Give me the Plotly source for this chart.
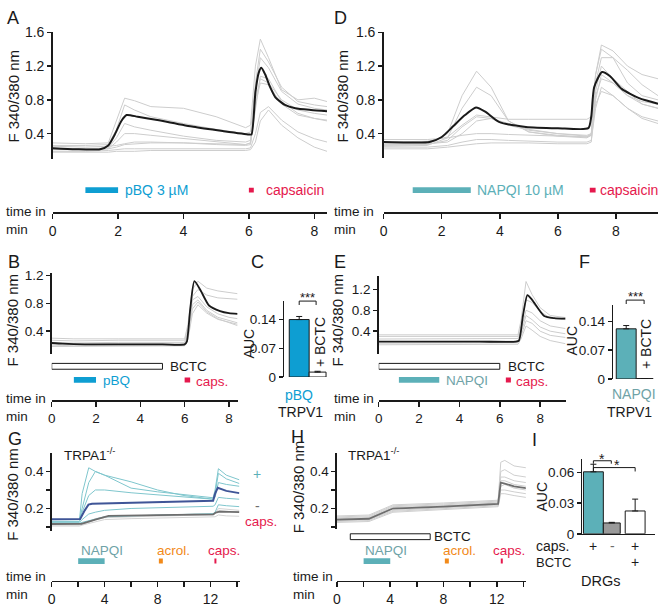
import plotly.graph_objects as go

W, H = 660, 608
def X(px): return px / W
def Y(py): return 1 - py / H

FONT = "Liberation Sans, Arial, sans-serif"
INK = "#1a1a1a"
BLUE = "#0e9ed2"
TEAL = "#5cb0b8"
TEAL_TXT = "#6fa3a7"
RED = "#e5194d"
ORANGE = "#f28a1a"
GRAYTR = "#cdcdcd"
NAVY = "#3f5597"
TEAL_LIGHT = "#7fc6cd"
DARKGRAY = "#6e6e6e"

# ---------------- data: panel A (pBQ) ----------------
tA = [0, 1.0, 1.7, 1.95, 2.2, 2.5, 3.0, 4.0, 5.0, 5.9, 6.05, 6.2, 6.35, 6.6, 7.0, 7.5, 8.0, 8.39]
A_cells = [
    [0.29, 0.28, 0.29, 0.55, 0.82, 0.79, 0.72, 0.70, 0.60, 0.47, 0.50, 1.20, 1.52, 1.30, 0.92, 0.80, 0.82, 0.78],
    [0.26, 0.26, 0.27, 0.45, 0.74, 0.68, 0.60, 0.52, 0.45, 0.40, 0.42, 1.00, 1.40, 1.25, 0.95, 0.78, 0.74, 0.72],
    [0.23, 0.22, 0.23, 0.35, 0.52, 0.48, 0.44, 0.37, 0.32, 0.30, 0.32, 0.80, 1.05, 1.00, 0.80, 0.68, 0.64, 0.62],
    [0.21, 0.21, 0.22, 0.24, 0.27, 0.28, 0.29, 0.29, 0.28, 0.27, 0.29, 0.70, 1.08, 1.05, 0.78, 0.64, 0.58, 0.55],
    [0.19, 0.19, 0.20, 0.21, 0.22, 0.22, 0.22, 0.22, 0.22, 0.22, 0.23, 0.40, 0.65, 0.72, 0.56, 0.42, 0.34, 0.30],
    [0.18, 0.18, 0.18, 0.19, 0.19, 0.19, 0.20, 0.20, 0.20, 0.20, 0.21, 0.30, 0.55, 0.68, 0.50, 0.35, 0.24, 0.19],
    [0.25, 0.24, 0.25, 0.26, 0.28, 0.30, 0.30, 0.29, 0.27, 0.26, 0.27, 0.90, 1.30, 1.18, 0.90, 0.75, 0.70, 0.68],
    [0.22, 0.21, 0.22, 0.30, 0.40, 0.40, 0.38, 0.34, 0.30, 0.27, 0.29, 0.75, 1.00, 0.98, 0.75, 0.62, 0.58, 0.56],
]
tA_mean = [0, 0.7, 1.45, 1.7, 1.9, 2.1, 2.26, 2.6, 3.2, 4.3, 5.2, 6.0, 6.08, 6.2, 6.3, 6.38, 6.5, 6.65, 6.81, 7.1, 7.42, 7.9, 8.39]
vA_mean = [0.227, 0.215, 0.215, 0.26, 0.39, 0.55, 0.62, 0.60, 0.56, 0.48, 0.43, 0.39, 0.39, 0.89, 1.12, 1.18, 1.10, 0.95, 0.83, 0.74, 0.70, 0.68, 0.665]
A_pbq = [1.0, 2.0]
A_caps = [6.0, 6.15]

# ---------------- data: panel D (NAPQI) ----------------
tD = [0, 1.5, 2.2, 2.7, 3.2, 3.7, 4.3, 5.0, 6.0, 7.0, 7.15, 7.3, 7.5, 7.9, 8.4, 8.9, 9.45]
D_cells = [
    [0.27, 0.27, 0.40, 0.85, 1.14, 0.95, 0.55, 0.42, 0.38, 0.36, 0.40, 1.10, 1.45, 1.38, 1.20, 1.10, 1.05],
    [0.25, 0.26, 0.35, 0.70, 0.95, 0.85, 0.55, 0.42, 0.37, 0.35, 0.38, 1.00, 1.30, 1.30, 1.15, 0.98, 0.85],
    [0.30, 0.31, 0.36, 0.50, 0.62, 0.60, 0.57, 0.57, 0.57, 0.57, 0.60, 1.10, 1.40, 1.30, 1.00, 0.85, 0.80],
    [0.33, 0.33, 0.35, 0.38, 0.40, 0.40, 0.39, 0.38, 0.37, 0.36, 0.38, 0.90, 1.20, 1.05, 0.90, 0.75, 0.70],
    [0.24, 0.24, 0.26, 0.30, 0.33, 0.33, 0.32, 0.31, 0.30, 0.30, 0.32, 0.70, 0.95, 0.85, 0.70, 0.58, 0.52],
    [0.26, 0.27, 0.32, 0.48, 0.60, 0.58, 0.50, 0.44, 0.40, 0.38, 0.40, 0.75, 0.90, 0.85, 0.70, 0.60, 0.55],
    [0.28, 0.28, 0.30, 0.40, 0.55, 0.58, 0.52, 0.45, 0.40, 0.37, 0.38, 0.85, 1.05, 1.00, 0.85, 0.75, 0.70],
    [0.22, 0.22, 0.24, 0.26, 0.28, 0.29, 0.29, 0.29, 0.28, 0.28, 0.30, 0.80, 1.10, 1.00, 0.85, 0.78, 0.75],
]
tD_mean = [0, 0.8, 1.58, 2.0, 2.4, 2.8, 3.18, 3.5, 3.97, 4.9, 6.0, 7.05, 7.15, 7.25, 7.52, 7.8, 8.2, 8.8, 9.45]
vD_mean = [0.30, 0.295, 0.30, 0.36, 0.49, 0.62, 0.71, 0.66, 0.54, 0.48, 0.465, 0.465, 0.60, 0.95, 1.13, 1.08, 0.93, 0.82, 0.755]
D_napqi = [1.0, 3.0]
D_caps = [7.1, 7.3]

# ---------------- data: panel B (pBQ + BCTC) ----------------
tB = [0, 1, 3, 5, 6.0, 6.15, 6.35, 6.6, 7.0, 7.5, 8.0, 8.39]
B_cells = [
    [0.30, 0.29, 0.29, 0.29, 0.29, 0.50, 1.00, 1.12, 1.02, 0.98, 0.96, 0.94],
    [0.27, 0.26, 0.27, 0.27, 0.27, 0.45, 0.90, 1.00, 0.92, 0.88, 0.87, 0.86],
    [0.24, 0.23, 0.24, 0.24, 0.24, 0.40, 0.85, 0.90, 0.75, 0.65, 0.60, 0.58],
    [0.22, 0.21, 0.22, 0.22, 0.22, 0.35, 0.78, 0.85, 0.70, 0.60, 0.55, 0.52],
    [0.20, 0.19, 0.20, 0.20, 0.20, 0.32, 0.72, 0.82, 0.68, 0.58, 0.52, 0.48],
    [0.18, 0.18, 0.18, 0.19, 0.19, 0.28, 0.65, 0.78, 0.66, 0.57, 0.53, 0.50],
]
tB_mean = [0, 0.5, 1.5, 3, 5, 6.0, 6.1, 6.25, 6.44, 6.7, 7.1, 7.6, 8.0, 8.39]
vB_mean = [0.23, 0.22, 0.21, 0.21, 0.21, 0.21, 0.25, 0.71, 1.12, 1.00, 0.77, 0.69, 0.66, 0.65]
B_bctc = [0, 5.0]
B_pbq = [1.0, 2.0]
B_caps = [6.0, 6.25]

# ---------------- data: panel E (NAPQI + BCTC) ----------------
tE = [0, 1.5, 3, 4.5, 6, 6.9, 7.05, 7.3, 7.6, 8.0, 8.5, 9.26]
E_cells = [
    [0.33, 0.33, 0.34, 0.33, 0.33, 0.33, 0.60, 1.35, 1.10, 0.85, 0.70, 0.66],
    [0.30, 0.30, 0.30, 0.30, 0.30, 0.30, 0.50, 1.00, 0.95, 0.78, 0.65, 0.62],
    [0.25, 0.25, 0.26, 0.26, 0.26, 0.26, 0.40, 0.80, 0.75, 0.60, 0.50, 0.45],
    [0.20, 0.20, 0.21, 0.21, 0.21, 0.21, 0.35, 0.70, 0.62, 0.48, 0.40, 0.35],
    [0.17, 0.17, 0.18, 0.18, 0.18, 0.18, 0.30, 0.60, 0.55, 0.40, 0.32, 0.28],
    [0.14, 0.14, 0.15, 0.15, 0.15, 0.15, 0.25, 0.50, 0.42, 0.30, 0.22, 0.16],
]
tE_mean = [0, 1, 3, 5, 6.8, 6.95, 7.15, 7.37, 7.6, 8.2, 8.7, 9.26]
vE_mean = [0.20, 0.20, 0.20, 0.20, 0.20, 0.22, 0.70, 1.09, 1.00, 0.69, 0.65, 0.64]
E_bctc = [0, 6.0]
E_napqi = [1.0, 3.0]
E_caps = [6.3, 6.55]

# ---------------- data: bar panels C, F, I ----------------
C_auc = [0.140, 0.012]
C_err = [0.0075, 0.002]
F_auc = [0.122, 0.001]
F_err = [0.008, 0.0]
I_auc = [0.0606, 0.0106, 0.0223]
I_err = [0.0074, 0.0006, 0.0116]
I_caps = ["+", "-", "+"]
I_bctc = ["", "", "+"]

# ---------------- data: panel G (TRPA1-/-, NAPQI) ----------------
tG = [0, 2.1, 2.3, 2.8, 3.3, 4.0, 6.0, 8.0, 10.0, 12.2, 12.35, 12.6, 13.2, 14.18]
G_resp = [
    [0.14, 0.14, 0.28, 0.42, 0.40, 0.38, 0.31, 0.29, 0.275, 0.258, 0.30, 0.415, 0.38, 0.355],
    [0.14, 0.14, 0.20, 0.34, 0.40, 0.38, 0.344, 0.30, 0.27, 0.25, 0.28, 0.39, 0.36, 0.335],
    [0.13, 0.13, 0.18, 0.27, 0.30, 0.30, 0.285, 0.275, 0.265, 0.25, 0.26, 0.34, 0.33, 0.32],
    [0.125, 0.125, 0.14, 0.17, 0.18, 0.19, 0.20, 0.205, 0.21, 0.212, 0.22, 0.26, 0.255, 0.25],
    [0.12, 0.12, 0.125, 0.135, 0.145, 0.155, 0.16, 0.165, 0.17, 0.172, 0.18, 0.22, 0.215, 0.21],
]
G_nonresp = [
    [0.11, 0.11, 0.115, 0.125, 0.14, 0.15, 0.155, 0.16, 0.162, 0.165, 0.17, 0.20, 0.195, 0.19],
    [0.105, 0.105, 0.11, 0.12, 0.13, 0.14, 0.145, 0.148, 0.15, 0.152, 0.155, 0.165, 0.16, 0.158],
    [0.115, 0.115, 0.12, 0.13, 0.145, 0.155, 0.16, 0.163, 0.165, 0.168, 0.172, 0.19, 0.185, 0.182],
]
tG_resp_mean = [0, 2.15, 2.5, 2.78, 3.05, 5, 7.3, 10, 12.2, 12.35, 12.55, 13.2, 14.18]
vG_resp_mean = [0.142, 0.143, 0.19, 0.221, 0.226, 0.23, 0.235, 0.238, 0.242, 0.28, 0.312, 0.295, 0.283]
tG_non_mean = [0, 2.25, 3.3, 4.3, 8, 12.2, 12.4, 12.7, 14.18]
vG_non_mean = [0.116, 0.117, 0.14, 0.16, 0.164, 0.168, 0.178, 0.183, 0.18]
G_napqi = [2.0, 4.0]
G_acrol = [8.1, 8.4]
G_caps = [12.3, 12.45]

# ---------------- data: panel H (TRPA1-/-, NAPQI + BCTC) ----------------
tH = [0, 2.4, 4.2, 8, 12.1, 12.3, 12.6, 13.3, 14.2]
H_cells = [
    [0.16, 0.165, 0.22, 0.23, 0.245, 0.45, 0.46, 0.43, 0.42],
    [0.155, 0.16, 0.215, 0.225, 0.24, 0.40, 0.41, 0.38, 0.37],
    [0.15, 0.155, 0.21, 0.22, 0.235, 0.37, 0.37, 0.35, 0.34],
    [0.145, 0.15, 0.205, 0.215, 0.23, 0.35, 0.35, 0.33, 0.32],
    [0.135, 0.14, 0.19, 0.205, 0.22, 0.32, 0.33, 0.31, 0.30],
    [0.13, 0.135, 0.185, 0.20, 0.215, 0.30, 0.30, 0.29, 0.28],
    [0.125, 0.13, 0.18, 0.195, 0.21, 0.28, 0.28, 0.27, 0.26],
]
vH_mean = [0.14, 0.145, 0.20, 0.21, 0.225, 0.34, 0.335, 0.32, 0.31]
H_bctc = [1.0, 7.0]
H_napqi = [2.0, 4.0]
H_acrol = [8.1, 8.4]
H_caps = [12.3, 12.45]

# ---------------- figure construction ----------------
fig = go.Figure()
layout = {}
annotations = []
shapes = []

def sfx(n):
    return "" if n == 1 else str(n)

def time_axis(n, x0, x1, tmax, line_y, tickvals, fs, minor=None):
    ax = dict(
        domain=[X(x0), X(x1)], range=[0, tmax], anchor="free", position=Y(line_y),
        showline=True, linecolor=INK, linewidth=1.5, ticks="outside", ticklen=5,
        tickwidth=1.5, tickcolor=INK, tickmode="array", tickvals=tickvals,
        ticktext=[str(v) for v in tickvals],
        tickfont=dict(family=FONT, size=fs, color=INK), showgrid=False,
        zeroline=False, fixedrange=True)
    if minor:
        ax["minor"] = dict(tickmode="array", tickvals=minor, ticks="outside", ticklen=5,
                           tickwidth=1.5, tickcolor=INK, showgrid=False)
    layout["xaxis" + sfx(n)] = ax

def val_axis(n, top, bottom, rng, tickvals, fs, minor=None):
    ax = dict(
        domain=[Y(bottom), Y(top)], range=rng, anchor="x" + sfx(n),
        showline=True, linecolor=INK, linewidth=1.5, ticks="outside", ticklen=4,
        tickwidth=1.5, tickcolor=INK, tickmode="array", tickvals=tickvals,
        ticktext=[("%g" % v) for v in tickvals],
        tickfont=dict(family=FONT, size=fs, color=INK), showgrid=False,
        zeroline=False, fixedrange=True)
    if minor:
        ax["minor"] = dict(tickmode="array", tickvals=minor, ticks="outside", ticklen=4,
                           tickwidth=1.5, tickcolor=INK, showgrid=False)
    layout["yaxis" + sfx(n)] = ax

def bar_xaxis(n, x0, x1, rng, line=False):
    layout["xaxis" + sfx(n)] = dict(
        domain=[X(x0), X(x1)], range=rng, anchor="y" + sfx(n), showline=line,
        linecolor=INK, linewidth=1.5, showticklabels=False, ticks="",
        showgrid=False, zeroline=False, fixedrange=True)

def line(n, t, v, color, width, shape="linear"):
    fig.add_trace(go.Scatter(x=t, y=v, mode="lines", xaxis="x" + sfx(n), yaxis="y" + sfx(n),
                             line=dict(color=color, width=width, shape=shape, smoothing=0.6),
                             hoverinfo="skip"))

def txt(s, x, y, size=13.5, color=INK, xanchor="left", angle=0, align="left"):
    annotations.append(dict(text=s, x=X(x), y=Y(y), xref="paper", yref="paper",
                            showarrow=False, xanchor=xanchor, yanchor="middle",
                            font=dict(family=FONT, size=size, color=color),
                            textangle=angle, borderpad=0, align=align))

def stim(n, span, cy, color, h=6, outline=False):
    shapes.append(dict(type="rect", xref="x" + sfx(n), yref="paper",
                       x0=span[0], x1=span[1], y0=Y(cy + h / 2), y1=Y(cy - h / 2),
                       fillcolor=color, line=dict(width=1 if outline else 0, color=INK)))

def bracket(xl, xr, ytop, leg_l, leg_r):
    shapes.append(dict(type="path", xref="paper", yref="paper",
                       path=f"M {X(xl)} {Y(ytop + leg_l)} L {X(xl)} {Y(ytop)} L {X(xr)} {Y(ytop)} L {X(xr)} {Y(ytop + leg_r)}",
                       line=dict(color=INK, width=1)))

def bars(n, vals, errs, colors, widths, offsets):
    fig.add_trace(go.Bar(x=list(range(len(vals))), y=vals, width=widths, offset=offsets,
                         xaxis="x" + sfx(n), yaxis="y" + sfx(n),
                         marker=dict(color=colors, line=dict(color=INK, width=1)),
                         error_y=dict(type="data", array=errs, arrayminus=[0] * len(errs),
                                      symmetric=False, color=INK, thickness=1, width=3),
                         hoverinfo="skip"))

# Panel A
time_axis(1, 49, 325, 8.39, 210, [0, 2, 4, 6, 8], 14)
val_axis(1, 25, 155, [0.1, 1.6], [0.4, 0.8, 1.2, 1.6], 14)
for c in A_cells:
    line(1, tA, c, GRAYTR, 1)
line(1, tA_mean, vA_mean, INK, 2, "spline")
stim(1, A_pbq, 187, BLUE)
stim(1, A_caps, 187, RED, h=5)

# Panel D
time_axis(2, 382, 658, 9.45, 210, [0, 2, 4, 6, 8], 14)
val_axis(2, 25, 154, [0.112, 1.6], [0.4, 0.8, 1.2, 1.6], 14)
for c in D_cells:
    line(2, tD, c, GRAYTR, 1)
line(2, tD_mean, vD_mean, INK, 2, "spline")
stim(2, D_napqi, 187, TEAL)
stim(2, D_caps, 187, RED, h=5)

# Panel B
time_axis(3, 48, 235, 8.39, 403, [0, 2, 4, 6, 8], 13.5)
val_axis(3, 272, 355, [0.077, 1.24], [0.4, 0.8, 1.2], 13.5)
for c in B_cells:
    line(3, tB, c, GRAYTR, 1)
line(3, tB_mean, vB_mean, INK, 1.8, "spline")
stim(3, B_bctc, 368, "white", outline=True)
stim(3, B_pbq, 382, BLUE)
stim(3, B_caps, 382, RED, h=5)

# Panel C
bar_xaxis(4, 282, 326, [-0.75, 1.45])
val_axis(4, 301, 379, [0, 0.185], [0, 0.07, 0.14], 13.5)
bars(4, C_auc, C_err, [BLUE, "white"], [1, 0.85], [-0.5, -0.5])

# Panel E
time_axis(5, 377, 565, 9.26, 403, [0, 2, 4, 6, 8], 13.5)
val_axis(5, 275, 355, [-0.03, 1.46], [0.4, 0.8, 1.2], 13.5)
for c in E_cells:
    line(5, tE, c, GRAYTR, 1)
line(5, tE_mean, vE_mean, INK, 1.8, "spline")
stim(5, E_bctc, 368, "white", outline=True)
stim(5, E_napqi, 382, TEAL)
stim(5, E_caps, 382, RED, h=5)

# Panel F
bar_xaxis(6, 613, 657, [-0.65, 1.55])
val_axis(6, 305, 381, [0, 0.18], [0, 0.07, 0.14], 13.5)
bars(6, F_auc, F_err, [TEAL, "white"], [1, 0.85], [-0.5, -0.5])

# Panel G
time_axis(7, 48, 237, 14.2, 588, [0, 4, 8, 12], 14, minor=[2, 6, 10, 14])
val_axis(7, 457, 537, [0.079, 0.5], [0.2, 0.4], 13.5, minor=[0.1, 0.3])
for c in G_nonresp:
    line(7, tG, c, "#d4d4d4", 1)
for c in G_resp:
    line(7, tG, c, TEAL_LIGHT, 1)
line(7, tG_non_mean, vG_non_mean, DARKGRAY, 1.8)
line(7, tG_resp_mean, vG_resp_mean, NAVY, 2)
stim(7, G_napqi, 568, TEAL)
stim(7, G_acrol, 568, ORANGE, h=5)
stim(7, G_caps, 568, RED, h=5)

# Panel H
time_axis(8, 335, 525, 14.18, 588, [0, 4, 8, 12], 14, minor=[2, 6, 10, 14])
val_axis(8, 457, 535, [0.09, 0.5], [0.2, 0.4], 13.5, minor=[0.1, 0.3])
for c in H_cells:
    line(8, tH, c, "#cfcfcf", 1)
line(8, tH, vH_mean, DARKGRAY, 1.8)
stim(8, H_bctc, 543, "white", outline=True)
stim(8, H_napqi, 568, TEAL)
stim(8, H_acrol, 568, ORANGE, h=5)
stim(8, H_caps, 568, RED, h=5)

# Panel I
bar_xaxis(9, 582, 655, [-0.55, 3.1], line=True)
val_axis(9, 463, 540, [0, 0.0733], [0, 0.03, 0.06], 13.5)
bars(9, I_auc, I_err, [TEAL, "#9a9a9a", "white"], [1, 0.85, 1], [-0.5, -0.5, -0.4])

# ---------------- text ----------------
for s, x, y in [("A", 2, 10), ("D", 331, 10), ("B", 3, 261), ("C", 248, 261), ("E", 331, 261),
                ("F", 578, 261), ("G", 3, 443), ("H", 288, 441), ("I", 530, 444)]:
    txt(s, x, y, size=18)

for x, y in [(10, 90), (341, 90), (9, 320), (336, 320), (9, 499), (296, 492)]:
    txt("F 340/380 nm", x, y, size=15, xanchor="center", angle=-90)

for x, ymid in [(1, 218), (331, 218), (1, 410), (331, 410), (1, 593), (290, 593)]:
    txt("time in<br>min", x, ymid, size=13.5)

txt("pBQ 3 µM", 121, 187, size=14, color=BLUE)
txt("capsaicin", 263, 187, size=14, color=RED)
txt("NAPQI 10 µM", 475, 187, size=14, color=TEAL)
txt("capsaicin", 599, 187, size=14, color=RED)

txt("BCTC", 166, 368)
txt("pBQ", 99, 383, color=BLUE)
txt("caps.", 192, 384, color=RED)
txt("BCTC", 506, 368)
txt("NAPQI", 444, 383, color=TEAL_TXT)
txt("caps.", 514, 384, color=RED)

txt("AUC", 246, 345, size=14, xanchor="center", angle=-90)
txt("+ BCTC", 318, 343, size=14, xanchor="center", angle=-90)
txt("***", 305, 297, size=13, xanchor="center")
txt("pBQ", 297, 397, size=14, color=BLUE, xanchor="center")
txt("TRPV1", 298, 415, size=14, xanchor="center")
bracket(297, 314, 301, 4, 4)

txt("AUC", 571, 342, size=14, xanchor="center", angle=-90)
txt("+ BCTC", 646, 345, size=14, xanchor="center", angle=-90)
txt("***", 635, 296, size=13, xanchor="center")
txt("NAPQI", 634, 396, size=14, color=TEAL_TXT, xanchor="center")
txt("TRPV1", 629, 415, size=14, xanchor="center")
bracket(626, 644, 300, 4, 4)

txt("TRPA1<sup>-/-</sup>", 59, 458, size=13.5)
txt("TRPA1<sup>-/-</sup>", 345, 458, size=13.5)
txt("+", 255, 479, size=14, color=TEAL, xanchor="center")
txt("-", 255, 511, size=14, color=DARKGRAY, xanchor="center")
txt("caps.", 241, 527, color=RED)
txt("NAPQI", 76, 557, color=TEAL_TXT)
txt("acrol.", 153, 557, color=ORANGE)
txt("caps.", 204, 557, color=RED)
txt("BCTC", 432, 543)
txt("NAPQI", 362, 557, color=TEAL_TXT)
txt("acrol.", 441, 557, color=ORANGE)
txt("caps.", 491, 557, color=RED)

txt("AUC", 541, 502, size=14, xanchor="center", angle=-90)
txt("caps.", 534, 553, size=14)
for s, x in zip(I_caps, [593, 612, 635]):
    txt(s, x, 553, size=14, xanchor="center", color=INK if s == "+" else DARKGRAY)
txt("BCTC", 534, 569, size=13)
for s, x in zip(I_bctc, [593, 612, 635]):
    if s:
        txt(s, x, 569, size=14, xanchor="center")
txt("DRGs", 600, 588, size=14.5, xanchor="center")
txt("*", 602, 463, size=14, xanchor="center")
txt("*", 617, 469, size=14, xanchor="center")
bracket(593, 611, 465, 3, 3)
bracket(593, 635, 472, 4, 4)

layout.update(dict(width=W, height=H, autosize=False, margin=dict(l=0, r=0, t=0, b=0),
                   paper_bgcolor="white", plot_bgcolor="rgba(0,0,0,0)", showlegend=False,
                   annotations=annotations, shapes=shapes, barmode="overlay",
                   font=dict(family=FONT, color=INK)))
fig.update_layout(**layout)
fig.write_html("out.html", config={"displayModeBar": False, "staticPlot": True},
               post_script="document.body.style.margin='0';")
